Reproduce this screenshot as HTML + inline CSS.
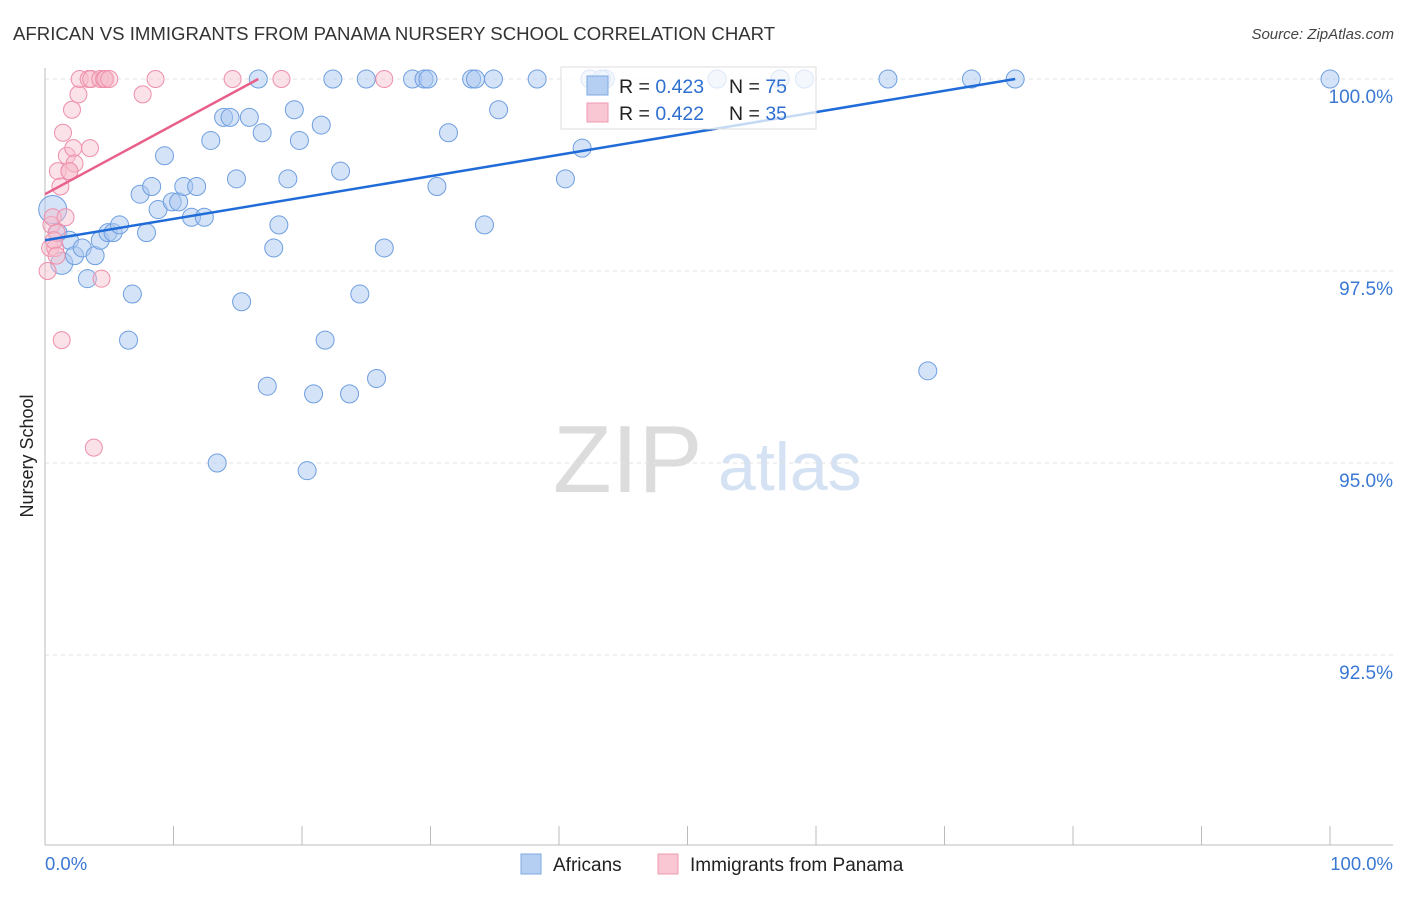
<!DOCTYPE html>
<html><head><meta charset="utf-8"><style>
body{margin:0;background:#fff;width:1406px;height:892px;overflow:hidden;font-family:"Liberation Sans",sans-serif}
svg text{font-family:"Liberation Sans",sans-serif}
</style></head><body>
<svg id="chart" width="1406" height="892" xmlns="http://www.w3.org/2000/svg">
<text x="13" y="40" font-size="18.6" fill="#333">AFRICAN VS IMMIGRANTS FROM PANAMA NURSERY SCHOOL CORRELATION CHART</text>
<text x="1394" y="39" font-size="15" fill="#444" font-style="italic" text-anchor="end">Source: ZipAtlas.com</text>
<g>
<text x="553" y="492" font-size="96" fill="#dcdcdc" font-family="Liberation Serif,serif">ZIP</text>
<text x="718" y="490" font-size="68" fill="#d4e2f4">atlas</text>
</g>
<g id="grid"></g>
<g id="axes"></g>
<g id="pts"></g>
<g id="lines"></g>
<g>
<rect x="561" y="67" width="255" height="62" fill="#fff" fill-opacity="0.75" stroke="#ddd"/>
<rect x="587" y="76" width="21" height="19" fill="#b5cff2" stroke="#7fa9e0"/>
<rect x="587" y="103" width="21" height="19" fill="#f9c6d4" stroke="#ef9ab2"/>
<text x="619" y="93" font-size="19.5" fill="#222">R = <tspan fill="#2f6fd0">0.423</tspan></text>
<text x="729" y="93" font-size="19.5" fill="#222">N = <tspan fill="#2f6fd0">75</tspan></text>
<text x="619" y="120" font-size="19.5" fill="#222">R = <tspan fill="#2f6fd0">0.422</tspan></text>
<text x="729" y="120" font-size="19.5" fill="#222">N = <tspan fill="#2f6fd0">35</tspan></text>
</g>
<g>
<rect x="521" y="854" width="20" height="20" fill="#b5cff2" stroke="#7fa9e0"/>
<text x="553" y="871" font-size="19" fill="#222">Africans</text>
<rect x="658" y="854" width="20" height="20" fill="#f9c6d4" stroke="#ef9ab2"/>
<text x="690" y="871" font-size="19" fill="#222">Immigrants from Panama</text>
</g>
<text transform="translate(33,456) rotate(-90)" font-size="18" fill="#222" text-anchor="middle">Nursery School</text>
<text x="45" y="870" font-size="18.5" fill="#3a78d4">0.0%</text>
<text x="1393" y="870" font-size="18.5" fill="#3a78d4" text-anchor="end">100.0%</text>
</svg>
<script>
const yTicks=[100,97.5,95,92.5];
const yTickLabels=["100.0%","97.5%","95.0%","92.5%"];
const africansX=[0.6,1.0,1.3,1.9,2.3,2.9,3.3,3.9,4.3,4.9,5.3,5.8,6.5,6.8,7.4,7.9,8.3,8.8,9.3,9.9,10.4,10.8,11.4,11.8,12.4,12.9,13.4,13.9,14.4,14.9,15.3,15.9,16.9,17.3,17.8,18.2,18.9,19.4,19.8,20.4,20.9,21.5,21.8,22.4,23.0,23.7,24.5,25.0,25.8,26.4,28.6,29.5,29.8,30.5,31.4,33.2,33.5,34.2,34.9,35.3,38.3,40.5,41.8,42.4,52.3,59.1,65.6,68.7,72.1,75.5,100,16.6,43.6,43.3,57.2];
const africansY=[98.3,98.0,97.6,97.9,97.7,97.8,97.4,97.7,97.9,98.0,98.0,98.1,96.6,97.2,98.5,98.0,98.6,98.3,99.0,98.4,98.4,98.6,98.2,98.6,98.2,99.2,95.0,99.5,99.5,98.7,97.1,99.5,99.3,96.0,97.8,98.1,98.7,99.6,99.2,94.9,95.9,99.4,96.6,100,98.8,95.9,97.2,100,96.1,97.8,100,100,100,98.6,99.3,100,100,98.1,100,99.6,100,98.7,99.1,100,100,100,100,96.2,100,100,100,100,100,100,100];
const panamaX=[0.2,0.4,0.5,0.6,0.8,0.9,1.0,1.2,1.3,1.4,1.6,1.7,1.9,2.1,2.2,2.3,2.6,2.7,3.4,3.6,3.8,3.5,4.3,4.6,4.4,4.7,5.0,7.6,8.6,14.6,18.4,26.4,1.9,0.7,0.9];
const panamaY=[97.5,97.8,98.1,98.2,97.8,98.0,98.8,98.6,96.6,99.3,98.2,99.0,98.8,99.6,99.1,98.9,99.8,100,100,100,95.2,99.1,100,100,97.4,100,100,99.8,100,100,100,100,98.8,97.9,97.7];
const trendAfricans=[[0,97.9],[75.5,100]];
const trendPanama=[[0,98.5],[16.6,100]];
const X0=45,X1=1330,Y100=79,PX=76.8;
const sx=v=>X0+(X1-X0)*v/100, sy=v=>Y100+(100-v)*PX;
const NS="http://www.w3.org/2000/svg";
function mk(p,t,a){const e=document.createElementNS(NS,t);for(const k in a)e.setAttribute(k,a[k]);p.appendChild(e);return e;}
const grid=document.getElementById('grid'),axes=document.getElementById('axes'),pts=document.getElementById('pts'),lines=document.getElementById('lines');
yTicks.forEach((t,i)=>{
 const g=mk(grid,'line',{x1:45,x2:1393,y1:sy(t),y2:sy(t),stroke:'#e2e2e2','stroke-dasharray':'4,4'});
 
 
 const l=mk(grid,'text',{x:1393,y:sy(t)+24,'font-size':19,fill:'#3a78d4','text-anchor':'end'});
 l.textContent=yTickLabels[i];
 
 
});
const ax=mk(axes,'line',{x1:45,x2:45,y1:68,y2:845,stroke:'#bbb'});


const bx=mk(axes,'line',{x1:45,x2:1393,y1:845,y2:845,stroke:'#bbb'});


for(let i=0;i<=10;i++){const t=mk(axes,'line',{x1:sx(i*10),x2:sx(i*10),y1:826,y2:845,stroke:'#bbb'});
 
 }
africansX.forEach((x,i)=>{const r=i===0?14:(i===2?11:9);
 const c=mk(pts,'circle',{cx:sx(x),cy:sy(africansY[i]),r:r,fill:'#a9c8f0','fill-opacity':0.5,stroke:'#6f9fe0','stroke-width':1});
 
 });
panamaX.forEach((x,i)=>{
 const c=mk(pts,'circle',{cx:sx(x),cy:sy(panamaY[i]),r:8.5,fill:'#f7bccd','fill-opacity':0.45,stroke:'#ee8fab','stroke-width':1});
 
 });
const la=mk(lines,'line',{x1:sx(trendAfricans[0][0]),y1:sy(trendAfricans[0][1]),x2:sx(trendAfricans[1][0]),y2:sy(trendAfricans[1][1]),stroke:'#1f6bd8','stroke-width':2.5});


const lp=mk(lines,'line',{x1:sx(trendPanama[0][0]),y1:sy(trendPanama[0][1]),x2:sx(trendPanama[1][0]),y2:sy(trendPanama[1][1]),stroke:'#e8608a','stroke-width':2.5});


</script>
</body></html>
